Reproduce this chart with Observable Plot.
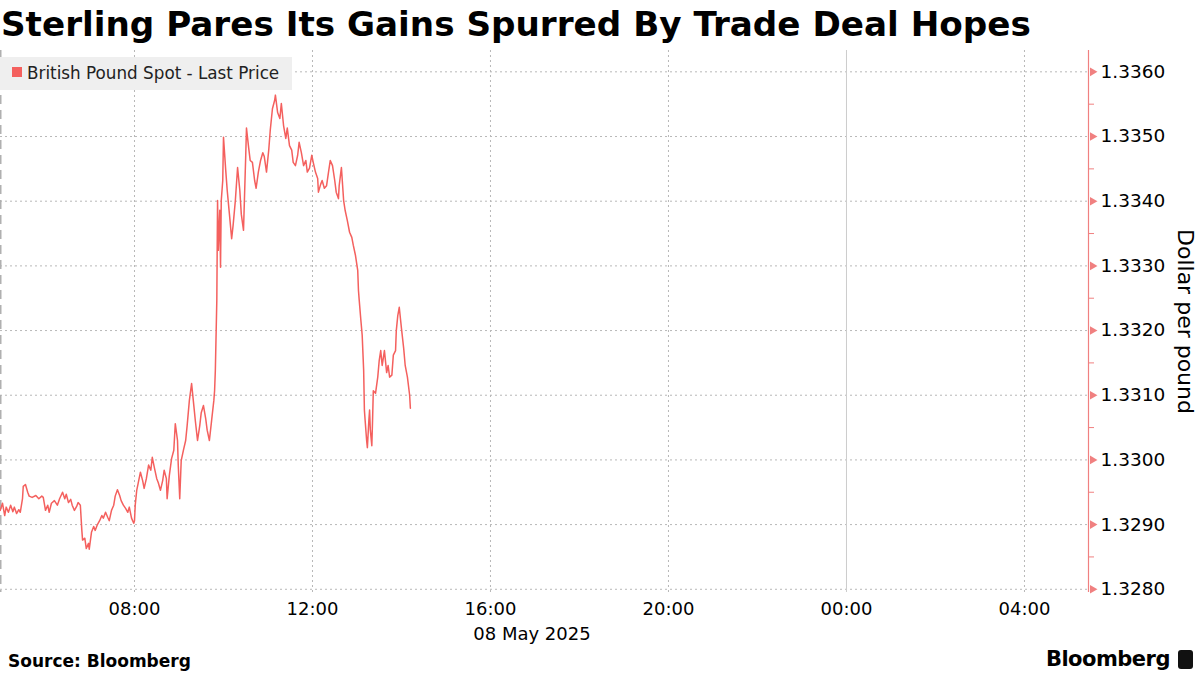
<!DOCTYPE html>
<html><head><meta charset="utf-8">
<script src="https://cdn.jsdelivr.net/npm/d3@7"></script>
<script src="https://cdn.jsdelivr.net/npm/@observablehq/plot@0.6"></script>
<style>
body{margin:0;background:#fff;font-family:"DejaVu Sans",sans-serif;}
#wrap{position:relative;width:1200px;height:675px;overflow:hidden;background:#fff;}
#title{position:absolute;left:1px;top:4px;font-family:"DejaVu Sans",sans-serif;font-weight:bold;font-size:34.2px;color:#000;white-space:nowrap;letter-spacing:0px;}
#chart{position:absolute;left:0;top:44px;}
#legend{position:absolute;left:0;top:57px;width:292px;height:33px;background:#efefef;font-size:16.8px;color:#222;}
#legend .sw{position:absolute;left:12px;top:10px;width:10px;height:10px;background:#f4605e;}
#legend .tx{position:absolute;left:27px;top:6px;white-space:nowrap;}
#date{position:absolute;left:0;width:1064px;top:623px;text-align:center;font-size:18px;color:#000;}
#source{position:absolute;left:8px;top:651px;font-weight:bold;font-size:17px;color:#000;}
#logo{position:absolute;right:7px;top:647px;font-weight:bold;font-size:21px;color:#000;letter-spacing:-0.5px;}
#logo .ic{display:inline-block;width:15px;height:19px;background:#111;border-radius:3px;vertical-align:-3px;margin-left:8px;}
</style></head>
<body><div id="wrap">
<div id="title">Sterling Pares Its Gains Spurred By Trade Deal Hopes</div>
<div id="chart"></div>
<div id="legend"><div class="sw"></div><div class="tx">British Pound Spot - Last Price</div></div>
<div id="date">08 May 2025</div>
<div id="source">Source: Bloomberg</div>
<div id="logo">Bloomberg<span class="ic"></span></div>
</div>
<script>
// 08 May 2025, time of day (HH:MM) and GBPUSD last price
const times = ["04:59","05:02","05:05","05:07","05:10","05:13","05:16","05:18","05:21","05:24","05:26","05:29","05:30","05:33","05:36","05:38","05:42","05:47","05:51","05:55","05:57","06:00","06:03","06:05","06:08","06:12","06:16","06:19","06:23","06:26","06:28","06:31","06:34","06:36","06:39","06:42","06:44","06:47","06:49","06:50","06:53","06:55","06:58","06:59","07:02","07:05","07:07","07:10","07:13","07:16","07:18","07:21","07:24","07:26","07:29","07:32","07:34","07:37","07:40","07:42","07:45","07:48","07:51","07:53","07:56","07:59","08:00","08:01","08:03","08:05",
"08:08","08:11","08:13","08:16","08:19","08:22","08:24","08:27","08:30","08:32","08:35","08:38","08:40","08:43","08:44","08:47","08:50","08:53","08:55","08:58","08:59","09:01","09:03","09:06","09:09","09:11","09:14","09:17","09:20","09:22","09:25","09:28","09:30","09:33","09:36","09:38","09:41","09:44","09:47","09:48","09:49","09:51","09:52","09:53","09:55","09:56","09:57","09:59","10:00",
"10:03","10:05","10:08","10:11","10:13","10:16","10:19","10:22","10:24","10:27","10:30","10:31","10:34","10:36","10:39","10:42","10:44","10:47","10:50","10:53","10:55","10:58","11:01","11:03","11:06","11:09","11:10","11:13","11:16","11:18","11:21","11:24","11:26","11:29","11:32","11:34","11:37","11:40","11:42","11:45","11:48","11:51","11:53","11:56","11:59","12:01","12:04","12:07","12:08","12:11","12:13","12:16","12:19","12:22","12:24","12:27","12:30","12:32","12:35","12:36","12:39","12:42","12:44","12:47","12:50","12:53","12:55","12:58","13:01","13:02","13:03","13:05","13:07","13:09","13:10","13:11","13:13","13:14","13:16","13:17","13:18","13:20","13:21","13:22","13:25","13:28","13:30","13:32","13:34","13:37","13:40","13:42","13:44","13:47","13:49","13:52","13:53","13:55","13:57","14:00","14:03","14:05","14:08","14:11","14:12"];
const prices = [1.32922,1.32933,1.32914,1.32927,1.32919,1.32930,1.32920,1.32927,1.32917,1.32923,1.32919,1.32940,1.32959,1.32962,1.32950,1.32944,1.32942,1.32945,1.32940,1.32944,1.32942,1.32922,1.32930,1.32919,1.32933,1.32937,1.32930,1.32940,1.32950,1.32940,1.32947,1.32934,1.32939,1.32930,1.32922,1.32928,1.32934,1.32930,1.32891,1.32876,1.32879,1.32863,1.32871,1.32862,1.32888,1.32897,1.32891,1.32900,1.32906,1.32914,1.32910,1.32919,1.32911,1.32906,1.32922,1.32930,1.32944,1.32954,1.32945,1.32937,1.32930,1.32925,1.32919,1.32927,1.32910,1.32902,1.32906,1.32930,1.32953,1.32964,
1.32981,1.32968,1.32956,1.32971,1.32992,1.32984,1.33004,1.32987,1.32971,1.32965,1.32953,1.32968,1.32984,1.32971,1.32940,1.32976,1.33002,1.33015,1.33056,1.33030,1.32992,1.32940,1.32999,1.33015,1.33030,1.33053,1.33092,1.33118,1.33084,1.33061,1.33030,1.33053,1.33073,1.33084,1.33064,1.33046,1.33030,1.33061,1.33092,1.33107,1.33138,1.33247,1.33401,1.33324,1.33386,1.33298,1.33401,1.33432,1.33499,
1.33448,1.33417,1.33380,1.33342,1.33363,1.33401,1.33452,1.33417,1.33380,1.33355,1.33471,1.33513,1.33482,1.33463,1.33460,1.33432,1.33420,1.33445,1.33463,1.33475,1.33469,1.33445,1.33479,1.33509,1.33543,1.33556,1.33564,1.33537,1.33528,1.33551,1.33517,1.33497,1.33513,1.33486,1.33479,1.33460,1.33455,1.33471,1.33491,1.33475,1.33455,1.33463,1.33445,1.33451,1.33471,1.33460,1.33445,1.33435,1.33414,1.33426,1.33432,1.33420,1.33424,1.33448,1.33463,1.33455,1.33432,1.33414,1.33404,1.33424,1.33452,1.33401,1.33386,1.33370,1.33352,1.33344,1.33332,1.33316,1.33293,1.33262,1.33247,1.33219,1.33193,1.33138,1.33077,1.33061,1.33030,1.33019,1.33061,1.33077,1.33046,1.33022,1.33061,1.33107,1.33103,1.33128,1.33154,1.33169,1.33146,1.33169,1.33135,1.33146,1.33128,1.33131,1.33162,1.33169,1.33200,1.33223,1.33236,1.33203,1.33172,1.33146,1.33128,1.33100,1.33080];

const yTicks = [1.3280,1.3290,1.3300,1.3310,1.3320,1.3330,1.3340,1.3350,1.3360];
const yMinor = [1.32850,1.32950,1.33050,1.33150,1.33250,1.33350,1.33450,1.33550];
const xTickLabels = ["08:00","12:00","16:00","20:00","00:00","04:00"];
const xTickDays = [8,8,8,8,9,9];
const dayBreak = "00:00";
const xStart = [8,"04:59:20"], xEnd = [9,"05:26:20"];
const yDomain = [1.32795, 1.33633];
const yTitle = "Dollar per pound";

function toDate(day, hm) {
  const p = hm.split(":").map(Number);
  return new Date(Date.UTC(2025, 4, day, p[0], p[1], p[2] || 0));
}
const data = times.map((t, i) => ({date: toDate(8, t), price: prices[i]}));
const xTicks = xTickLabels.map((t, i) => toDate(xTickDays[i], t));
const dayBreakDate = toDate(9, dayBreak);
const xDomain = [toDate(xStart[0], xStart[1]), toDate(xEnd[0], xEnd[1])];
const red = "#f4605e";
const axisRed = "#f08080";

const chart = Plot.plot({
  width: 1200,
  height: 606,
  marginTop: 6,
  marginBottom: 58,
  marginLeft: 0,
  marginRight: 112,
  style: {fontFamily: "DejaVu Sans, sans-serif", background: "transparent", color: "#000"},
  x: {type: "utc", domain: xDomain},
  y: {domain: yDomain},
  marks: [
    Plot.gridY(yTicks, {stroke: "#b8b8b8", strokeOpacity: 1, strokeDasharray: "2,3"}),
    Plot.gridX(xTicks.filter(d => +d !== +dayBreakDate), {stroke: "#b8b8b8", strokeOpacity: 1, strokeDasharray: "2,3"}),
    Plot.ruleX([dayBreakDate], {stroke: "#cccccc", strokeWidth: 1}),
    Plot.ruleX([xDomain[0]], {stroke: "#b0b0b0", strokeWidth: 2, strokeDasharray: "9,6"}),
    Plot.lineY(data, {x: "date", y: "price", stroke: red, strokeWidth: 1.5}),
    Plot.ruleX([xDomain[1]], {stroke: axisRed, strokeWidth: 1.2}),
    Plot.axisY(yMinor, {anchor: "right", tickSize: 5, stroke: axisRed, tickFormat: () => "", label: null}),
    Plot.dot(yTicks, {x: xDomain[1], y: d => d, symbol: "triangle", r: 3.2, rotate: 90, fill: axisRed, stroke: null, dx: 4}),
    Plot.axisY(yTicks, {anchor: "right", tickSize: 0, tickPadding: 12, fontSize: 18.5, tickFormat: d3.format(".4f"), label: null}),
    Plot.text([yTitle], {frameAnchor: "right", text: d => d, rotate: 90, dx: 97, textAnchor: "middle", lineAnchor: "middle", fontSize: 22, fill: "#000"}),
    Plot.axisX(xTicks, {anchor: "bottom", tickSize: 0, tickPadding: 10, fontSize: 18, tickFormat: d3.utcFormat("%H:%M"), label: null})
  ]
});
document.getElementById("chart").appendChild(chart);
</script>
</body></html>
